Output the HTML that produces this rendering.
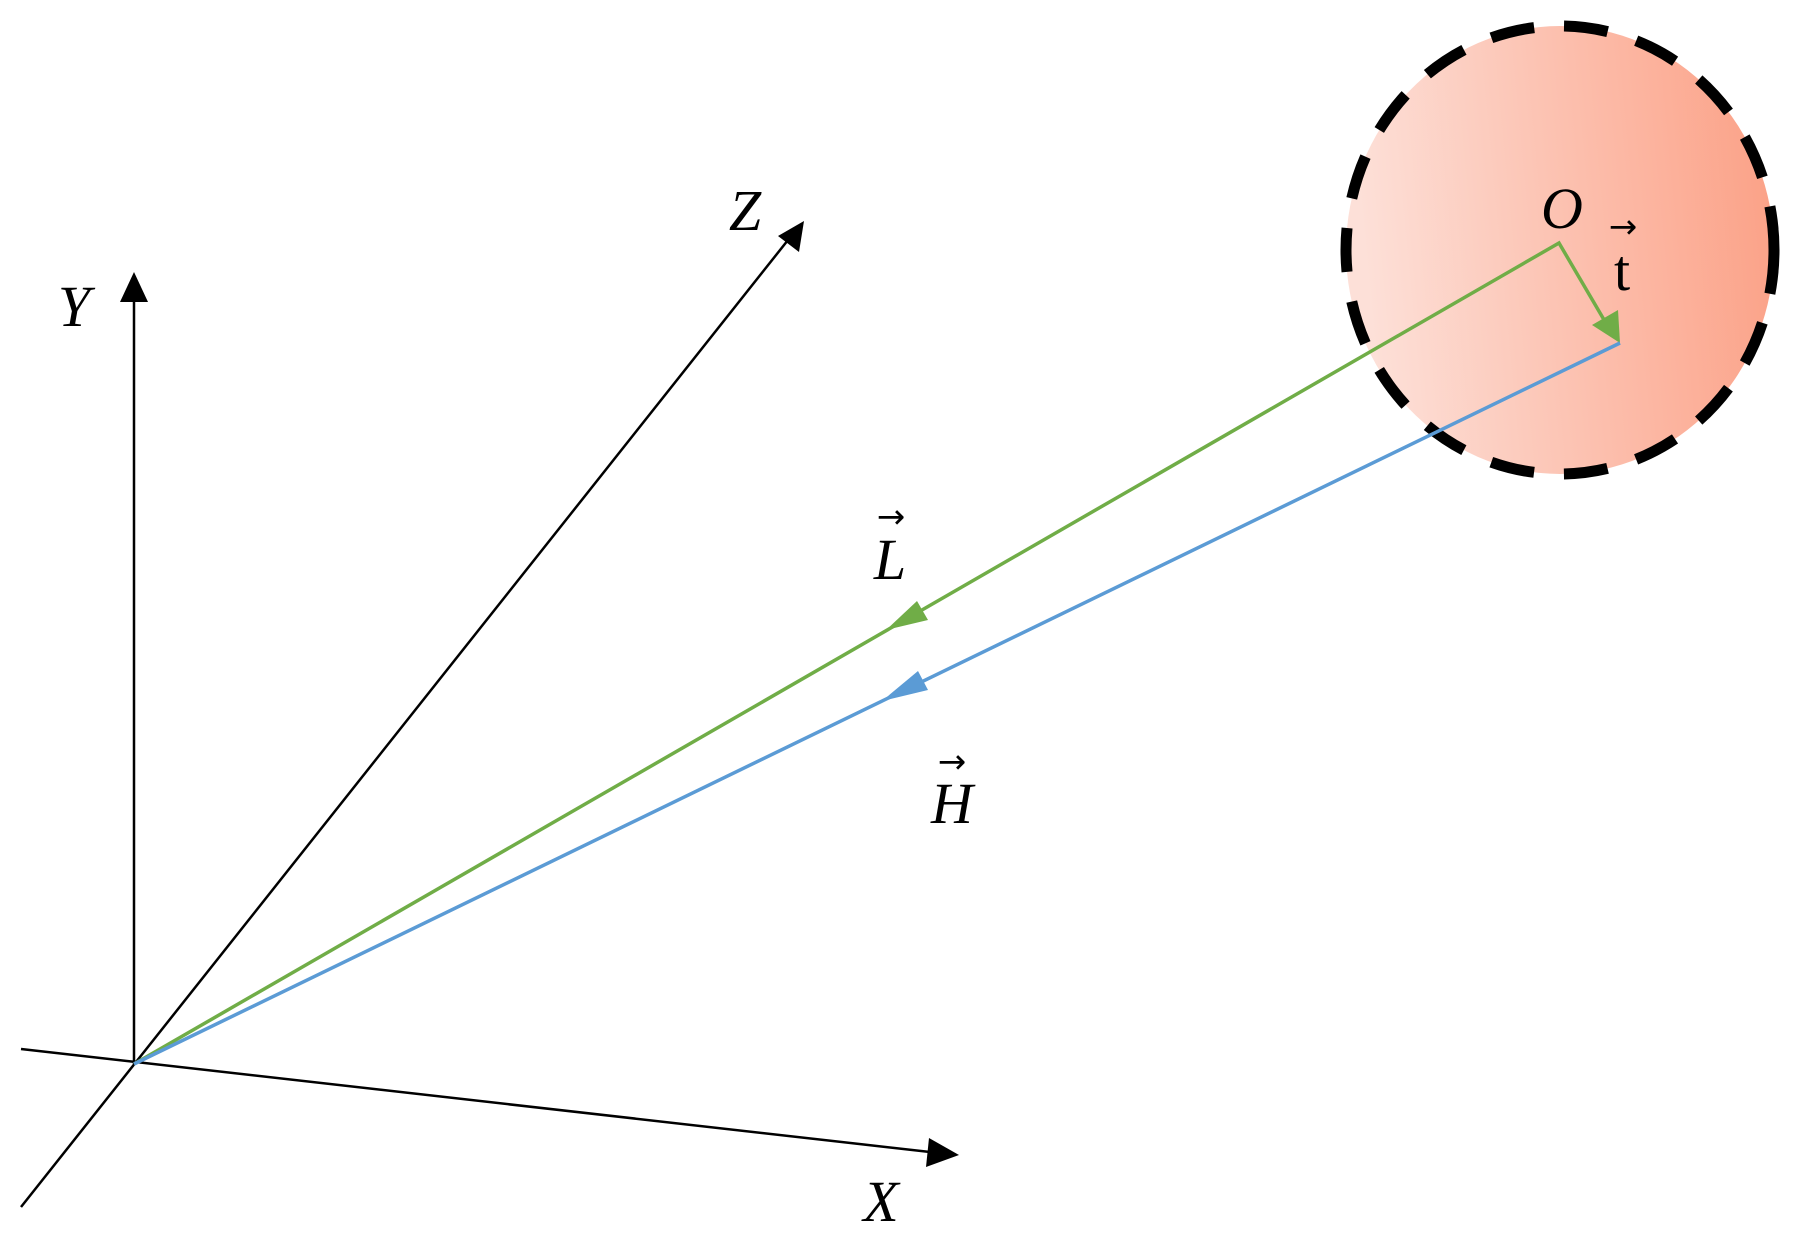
<!DOCTYPE html>
<html><head><style>body{margin:0;background:#fff}svg{display:block}</style></head><body>
<svg width="1794" height="1241" viewBox="0 0 1794 1241" xmlns="http://www.w3.org/2000/svg">
<defs>
<linearGradient id="g" x1="0" x2="1" y1="0.1" y2="0"><stop offset="0" stop-color="#fde0d8"/><stop offset="1" stop-color="#fb9f84"/></linearGradient>
</defs>
<ellipse cx="1560" cy="250" rx="214" ry="224" fill="url(#g)" stroke="#000" stroke-width="11" stroke-dasharray="44,30"/>
<g stroke="#000" stroke-width="2.5" fill="none">
<line x1="134" y1="1064" x2="134" y2="300"/>
<line x1="21" y1="1207" x2="788" y2="240"/>
<line x1="21" y1="1049" x2="930" y2="1152"/>
</g>
<path d="M134,272 L120,302 L148,302z" fill="#000"/>
<path d="M804,221 L778,236 L799,252z" fill="#000"/>
<path d="M959,1155 L929,1138 L926,1167z" fill="#000"/>
<g stroke="#70ad47" stroke-width="3.5" fill="none">
<polyline points="134,1064 1559,243 1610,330"/>
</g>
<path d="M1620,343 L1592,325 L1618,310z" fill="#70ad47"/>
<path d="M886,630 L928,620 L917,601z" fill="#70ad47"/>
<line x1="134" y1="1064" x2="1620" y2="343" stroke="#5b9bd5" stroke-width="3.5"/>
<path d="M882,701 L928,690 L918,671z" fill="#5b9bd5"/>
<g font-family="Liberation Serif, serif" font-style="italic" font-size="58" fill="#000" text-anchor="middle">
<text x="745" y="230">Z</text>
<text x="74" y="326">Y</text>
<text x="881" y="1221">X</text>
<text x="1562" y="228">O</text>
<text x="890" y="579">L</text>
<text x="952" y="823">H</text>
</g>
<g font-family="Liberation Serif, serif" font-size="58" fill="#000" text-anchor="middle">
<text x="1622" y="290">t</text>
</g>
<g font-family="DejaVu Sans, sans-serif" font-size="34" fill="#000" text-anchor="middle">
<text x="1623" y="238">→</text>
<text x="891" y="528">→</text>
<text x="952" y="773">→</text>
</g>
</svg>
</body></html>
